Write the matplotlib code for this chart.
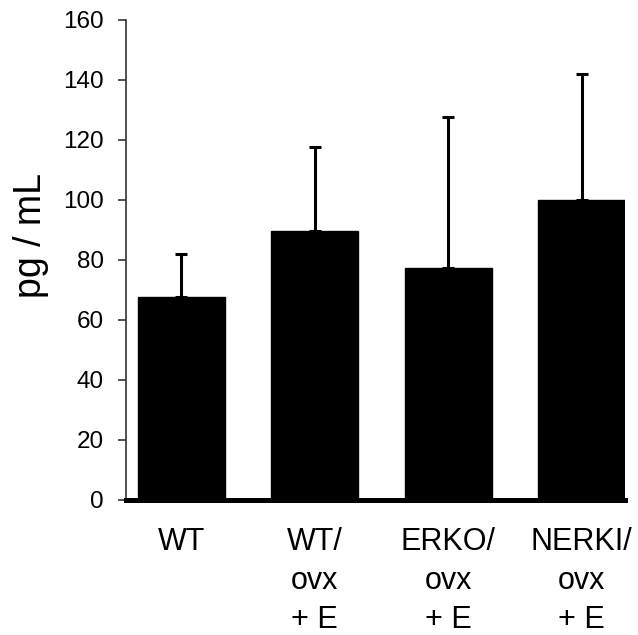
import matplotlib
matplotlib.use("Agg")
import matplotlib.pyplot as plt
import numpy as np

plt.rcParams['font.family'] = ['Liberation Sans', 'DejaVu Sans']

categories = ["WT", "WT/\novx\n+ E", "ERKO/\novx\n+ E", "NERKI/\novx\n+ E"]
means = [67.5, 89.5, 77.2, 100.0]
upper = [82.0, 117.6, 127.5, 142.0]
yticks = [0, 20, 40, 60, 80, 100, 120, 140, 160]

err_up = [u - m for u, m in zip(upper, means)]
err_lo = [0] * len(means)

fig = plt.figure(figsize=(6.38, 6.35), dpi=100)
ax = fig.add_axes([126/638, 1 - 499.7/635, (625-126)/638, (499.7-20)/635])

x = np.arange(len(categories))
ax.bar(x, means, width=0.652, color='black', edgecolor='black', zorder=2)
ax.errorbar(x, means, yerr=[err_lo, err_up], fmt='none', ecolor='black',
            elinewidth=2.2, capsize=4.3, capthick=2.2, zorder=3)

ax.set_xlim(-0.416, 3.326)
ax.set_ylim(0, 160)
ax.set_yticks(yticks)
ax.set_yticklabels([str(t) for t in yticks], fontsize=17.5)
ax.set_xticks(x)
ax.set_xticklabels(categories, fontsize=22, linespacing=1.38)

for s in ['top', 'right']:
    ax.spines[s].set_visible(False)
ax.spines['left'].set_color('#333333')
ax.spines['left'].set_linewidth(1.2)
ax.spines['bottom'].set_color('black')
ax.spines['bottom'].set_linewidth(3.6)
ax.spines['bottom'].set_zorder(4)

ax.tick_params(axis='y', direction='out', length=6, width=1.2, color='#333333', pad=10)
ax.tick_params(axis='x', length=0, pad=20)

ax.set_ylabel("pg / mL", fontsize=27)
ax.yaxis.set_label_coords(-(126-31)/499, (499.7-235)/479.7)
ax.yaxis.label.set_va('center')

fig.savefig("out.png", dpi=100)
